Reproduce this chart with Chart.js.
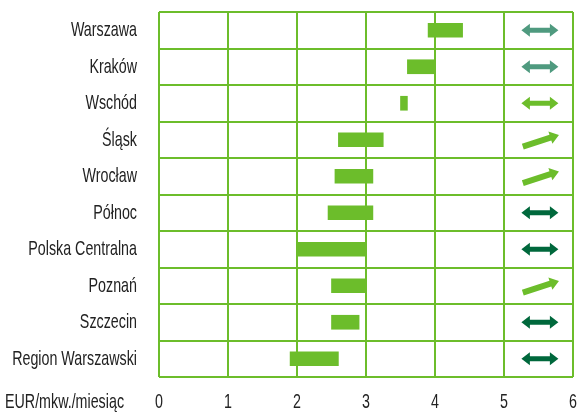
<!DOCTYPE html>
<html>
<head>
<meta charset="utf-8">
<script src="https://cdn.jsdelivr.net/npm/chart.js@4/dist/chart.umd.min.js"></script>
<style>
  html, body { margin: 0; padding: 0; background: #ffffff; }
  #wrap { width: 578px; height: 413px; position: relative; }
</style>
</head>
<body>
<div id="wrap"><canvas id="c" width="578" height="413"></canvas></div>
<script>
// ---- data ----
const categories = ["Warszawa", "Kraków", "Wschód", "Śląsk", "Wrocław", "Północ", "Polska Centralna", "Poznań", "Szczecin", "Region Warszawski"];
const rentMin = [3.9, 3.6, 3.5, 2.6, 2.55, 2.45, 2.0, 2.5, 2.5, 1.9];
const rentMax = [4.4, 4.0, 3.6, 3.25, 3.1, 3.1, 3.0, 3.0, 2.9, 2.6];
// outlook: "stableA", "stableB", "stableC" = horizontal double arrow; "up" = rising arrow
const outlook = ["stableA", "stableA", "stableB", "up", "up", "stableC", "stableC", "up", "stableC", "stableC"];
const xTicks = [0, 1, 2, 3, 4, 5, 6];
const unitLabel = "EUR/mkw./miesiąc";

// ---- styles ----
const GREEN = "#6cbd2b";
const TEAL = "#4f9a7f";
const DARK = "#00683c";
const FONT = "'Liberation Sans', Arial, sans-serif";
const FSIZE = 21;
const SQUEEZE = 0.68;   // horizontal condensing of label text
const TEXT = "#222222";
const arrowColor = { stableA: TEAL, stableB: GREEN, stableC: DARK, up: GREEN };

const ranges = categories.map((c, i) => [rentMin[i], rentMax[i]]);

function doubleArrow(ctx, cx, cy, color) {
  const L = 18.5, H = 8.5, hh = 6.5, sh = 2.5;
  ctx.save();
  ctx.fillStyle = color;
  ctx.beginPath();
  ctx.moveTo(cx - L, cy);
  ctx.lineTo(cx - L + H, cy - hh);
  ctx.lineTo(cx - L + H, cy - sh);
  ctx.lineTo(cx + L - H, cy - sh);
  ctx.lineTo(cx + L - H, cy - hh);
  ctx.lineTo(cx + L, cy);
  ctx.lineTo(cx + L - H, cy + hh);
  ctx.lineTo(cx + L - H, cy + sh);
  ctx.lineTo(cx - L + H, cy + sh);
  ctx.lineTo(cx - L + H, cy + hh);
  ctx.closePath();
  ctx.fill();
  ctx.restore();
}
function upArrow(ctx, cx, cy, color) {
  const L = 19, H = 9, hh = 6.5, sh = 3;
  ctx.save();
  ctx.translate(cx, cy);
  ctx.rotate(-18 * Math.PI / 180);
  ctx.fillStyle = color;
  ctx.beginPath();
  ctx.moveTo(-L, -sh);
  ctx.lineTo(L - H, -sh);
  ctx.lineTo(L - H, -hh);
  ctx.lineTo(L, 0);
  ctx.lineTo(L - H, hh);
  ctx.lineTo(L - H, sh);
  ctx.lineTo(-L, sh);
  ctx.closePath();
  ctx.fill();
  ctx.restore();
}

// draw scale labels horizontally condensed (the reference uses a condensed face)
function condenseLabels(scale) {
  if (scale.__condensed) return;
  scale.__condensed = true;
  const orig = scale.drawLabels.bind(scale);
  scale._computeLabelArea = function () { return undefined; };
  scale.drawLabels = function (chartArea) {
    const ctx = this.ctx;
    const items = this.getLabelItems(chartArea);
    const saved = this._labelItems;
    this._labelItems = items.map(it => Object.assign({}, it, {
      options: Object.assign({}, it.options, {
        translation: [it.options.translation[0] / SQUEEZE, it.options.translation[1]]
      })
    }));
    ctx.save();
    ctx.scale(SQUEEZE, 1);
    orig(chartArea);
    ctx.restore();
    this._labelItems = saved;
  };
}

const arrowPlugin = {
  id: "outlookArrows",
  afterLayout(chart) {
    condenseLabels(chart.scales.x);
    condenseLabels(chart.scales.y);
  },
  afterDatasetsDraw(chart) {
    const ctx = chart.ctx, xs = chart.scales.x, ys = chart.scales.y;
    const cx = xs.getPixelForValue(5.52);
    outlook.forEach((o, i) => {
      const cy = ys.getPixelForValue(i);
      if (o === "up") upArrow(ctx, cx + 1, cy + 1, arrowColor[o]);
      else doubleArrow(ctx, cx, cy, arrowColor[o]);
    });
  },
  afterDraw(chart) {
    const ctx = chart.ctx, xs = chart.scales.x;
    const item = xs.getLabelItems()[0];
    ctx.save();
    ctx.font = FSIZE + "px " + FONT;
    ctx.fillStyle = TEXT;
    ctx.textAlign = "left";
    ctx.textBaseline = item ? item.options.textBaseline : "middle";
    const y = item ? item.options.translation[1] + item.textOffset : xs.top + 26;
    ctx.scale(SQUEEZE, 1);
    ctx.fillText(unitLabel, 5 / SQUEEZE, y);
    ctx.restore();
  }
};

new Chart(document.getElementById("c"), {
  type: "bar",
  data: {
    labels: categories,
    datasets: [{
      data: ranges,
      backgroundColor: GREEN,
      borderWidth: 0,
      borderSkipped: false,
      barThickness: 14
    }]
  },
  options: {
    indexAxis: "y",
    responsive: false,
    animation: false,
    layout: { padding: { top: 12, right: 5, left: 0, bottom: 0 } },
    plugins: { legend: { display: false }, tooltip: { enabled: false }, title: { display: false } },
    scales: {
      x: {
        type: "linear",
        min: 0, max: 6,
        afterBuildTicks(scale) { scale.ticks = xTicks.map(v => ({ value: v })); },
        afterFit(scale) { scale.height = 36; scale.paddingLeft = 0; scale.paddingRight = 0; },
        grid: { color: GREEN, lineWidth: 2, drawTicks: false, z: 1 },
        border: { display: false },
        ticks: { color: TEXT, font: { family: FONT, size: FSIZE }, padding: 13, maxRotation: 0 }
      },
      y: {
        type: "category",
        offset: true,
        afterFit(scale) { scale.width = 159; scale.paddingTop = 0; scale.paddingBottom = 0; },
        grid: { color: GREEN, lineWidth: 2, drawTicks: false, offset: true, z: 1 },
        border: { display: false },
        ticks: { color: TEXT, font: { family: FONT, size: FSIZE }, padding: 22 }
      }
    }
  },
  plugins: [arrowPlugin]
});
</script>
</body>
</html>
